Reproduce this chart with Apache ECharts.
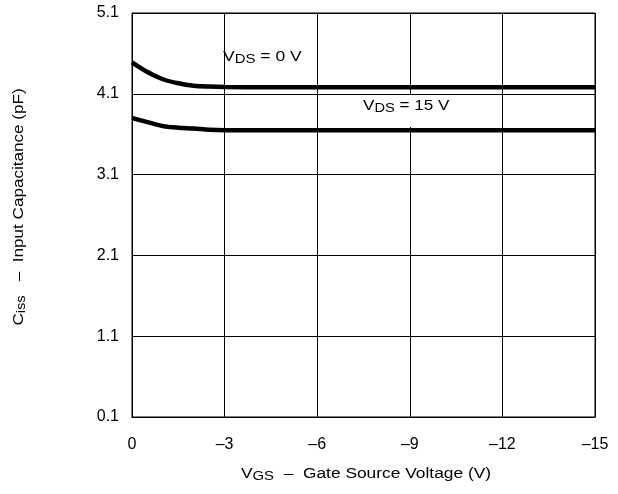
<!DOCTYPE html>
<html>
<head>
<meta charset="utf-8">
<script src="https://cdn.jsdelivr.net/npm/echarts@6/dist/echarts.min.js"></script>
<style>
html,body{margin:0;padding:0;background:#fff;}
#c{width:618px;height:494px;}
</style>
</head>
<body>
<div id="c"></div>
<script>
// Gate-source voltage (V)
var vgs = [0, -0.5, -1, -1.5, -2, -2.5, -3, -4.5, -6, -7.5, -9, -10.5, -12, -13.5, -15];
// Input capacitance (pF)
var cissVds0  = [4.49, 4.37, 4.28, 4.23, 4.20, 4.19, 4.185, 4.18, 4.18, 4.18, 4.18, 4.18, 4.18, 4.18, 4.18];
var cissVds15 = [3.80, 3.75, 3.70, 3.68, 3.67, 3.655, 3.65, 3.65, 3.65, 3.65, 3.65, 3.65, 3.65, 3.65, 3.65];
var xTicks = [0, -3, -6, -9, -12, -15];
var yTicks = [0.1, 1.1, 2.1, 3.1, 4.1, 5.1];

function pairs(xs, ys){ return xs.map(function(x,i){ return [x, ys[i]]; }); }

var font = 'Liberation Sans, Arial, sans-serif';
var rich = {v: {fontSize: 14, fontFamily: font, fill: '#000'},
            s: {fontSize: 12, fontFamily: font, fill: '#000', padding: [6, 0, 0, 0]}};
var chart = echarts.init(document.getElementById('c'));
chart.setOption({
  animation: false,
  backgroundColor: '#fff',
  grid: {left: 132, right: 23, top: 13, bottom: 77, show: true, borderColor: '#000', borderWidth: 1, backgroundColor: 'transparent'},
  xAxis: {
    type: 'value', min: -15, max: 0, interval: 3, inverse: true,
    axisLine: {show: true, lineStyle: {color: '#000', width: 1}},
    axisTick: {show: false},
    splitLine: {show: true, lineStyle: {color: '#000', width: 1}},
    axisLabel: {margin: 20, fontSize: 16, color: '#000', fontFamily: font,
      formatter: function(v){ return v === 0 ? '0' : '\u2013' + Math.abs(v); }}
  },
  yAxis: {
    type: 'value', min: 0.1, max: 5.1, interval: 1,
    axisLine: {show: true, lineStyle: {color: '#000', width: 1}},
    axisTick: {show: false},
    splitLine: {show: true, lineStyle: {color: '#000', width: 1}},
    axisLabel: {margin: 13, fontSize: 16, color: '#000', fontFamily: font,
      formatter: function(v){ return v.toFixed(1); }}
  },
  graphic: [
    {type: 'rect', shape: {x: 226, y: 45, width: 90, height: 31}, style: {fill: '#fff'}, z: 5},
    {type: 'text', x: 223, y: 57, scaleX: 1.25, z: 6, style: {
      text: '{v|V}{s|DS}{v| = 0 V}', verticalAlign: 'middle', rich: rich}},
    {type: 'rect', shape: {x: 356, y: 95, width: 104, height: 32}, style: {fill: '#fff'}, z: 5},
    {type: 'text', x: 363, y: 106, scaleX: 1.22, z: 6, style: {
      text: '{v|V}{s|DS}{v| = 15 V}', verticalAlign: 'middle', rich: rich}},
    {type: 'text', x: 366, y: 474, scaleX: 1.24, z: 6, style: {
      text: '{v|V}{s|GS}{v|  \u2013  Gate Source Voltage (V)}', align: 'center', verticalAlign: 'middle', rich: rich}},
    {type: 'text', x: 19, y: 207, rotation: Math.PI / 2, scaleX: 1.22, z: 6, style: {
      text: '{v|C}{s|iss}{v|   \u2013  Input Capacitance (pF)}', align: 'center', verticalAlign: 'middle', rich: rich}}
  ],
  series: [
    {type: 'line', data: pairs(vgs, cissVds0), smooth: 0.3, symbol: 'none', z: 10,
     lineStyle: {color: '#000', width: 4.5}},
    {type: 'line', data: pairs(vgs, cissVds15), smooth: 0.3, symbol: 'none', z: 10,
     lineStyle: {color: '#000', width: 4.5}}
  ]
});
</script>
</body>
</html>
